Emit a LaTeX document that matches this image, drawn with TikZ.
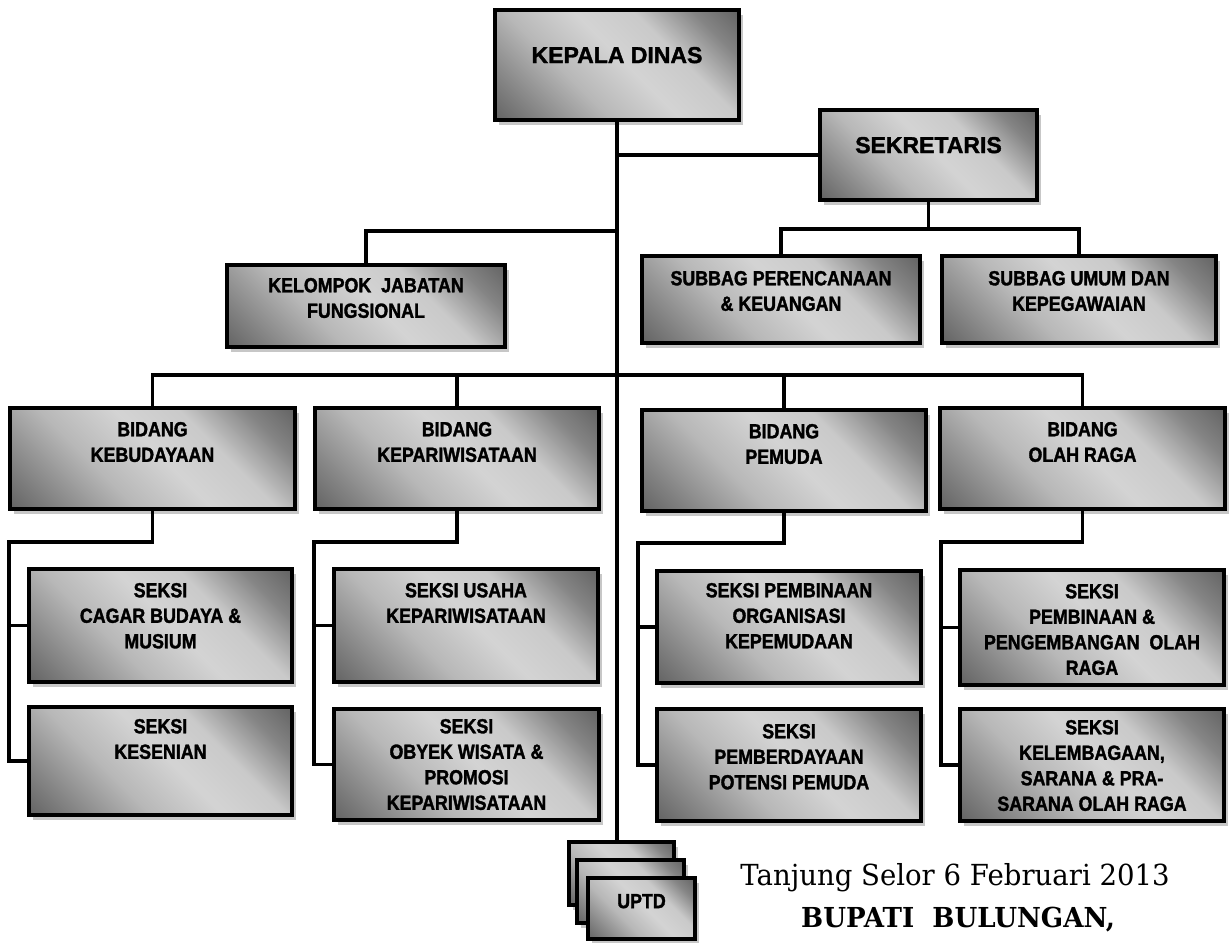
\documentclass[tikz,border=0pt]{standalone}
\usepackage{fontspec}
\newfontfamily\boxfont{Liberation Sans Bold}[FakeStretch=0.87, FakeBold=1.6]
\newfontfamily\headfont{Liberation Sans Bold}[FakeBold=1.6]
\newfontfamily\signfont{DejaVu Serif}[FakeStretch=0.95]

\definecolor{shA}{gray}{0.38}
\definecolor{shB}{gray}{0.52}
\definecolor{shC}{gray}{0.72}
\definecolor{shD}{gray}{0.83}
\definecolor{shE}{gray}{0.79}
\definecolor{shadowgray}{gray}{0.78}

% metallic diagonal fill of the boxes: dark corners, light band across
\pgfdeclarehorizontalshading{boxshade}{100bp}{%
  color(0bp)=(shA); color(14bp)=(shA); color(24bp)=(shB); color(38bp)=(shC);
  color(52bp)=(shD); color(64bp)=(shE); color(76bp)=(shB); color(86bp)=(shA);
  color(100bp)=(shA)}

\tikzset{
  orgrect/.style={rectangle, draw=black, line width=4.5pt, shading=boxshade,
    shading angle=45, inner sep=0pt, outer sep=0pt},
  orgtext/.style={align=center, inner sep=0pt, outer sep=0pt,
    font=\boxfont\fontsize{20.5}{25.5}\selectfont},
  bigtext/.style={font=\headfont\fontsize{23}{28}\selectfont},
  link/.style={line width=3.4pt, line join=miter},
}

% #1 extra text style, #2 name, #3 left, #4 top, #5 right, #6 bottom,
% #7 gap above text, #8 text
\newcommand\orgbox[8][]{%
  \fill[shadowgray] ({#3+4},{#4+5}) rectangle ({#5+4},{#6+5});
  \node[orgrect, minimum width={#5-#3}, minimum height={#6-#4}]
    (#2) at ({(#3+#5)/2},{(#4+#6)/2}) {};
  \node[orgtext, anchor=north, #1] (#2-t) at ([yshift=-#7pt]#2.north) {#8};
}

\begin{document}
\begin{tikzpicture}[x=1pt, y=-1pt]
\useasboundingbox[fill=white] (0,0) rectangle (1230,942);

% top level
\orgbox[bigtext]{kepala}{495}{10}{739}{120}{37}{KEPALA DINAS}
\orgbox[bigtext]{sekr}{820}{110}{1037}{200}{27}{SEKRETARIS}
\orgbox{kelompok}{227}{265}{505}{347}{13}{KELOMPOK~~JABATAN\\FUNGSIONAL}
\orgbox{sb1}{642}{256}{920}{343}{15}{SUBBAG PERENCANAAN\\\& KEUANGAN}
\orgbox{sb2}{942}{256}{1216}{343}{15}{SUBBAG UMUM DAN\\KEPEGAWAIAN}

% fields
\orgbox{bk}{10}{408}{295}{509}{14}{BIDANG\\KEBUDAYAAN}
\orgbox{bp}{315}{408}{599}{509}{14}{BIDANG\\KEPARIWISATAAN}
\orgbox{bm}{642}{410}{926}{511}{14}{BIDANG\\PEMUDA}
\orgbox{bo}{940}{408}{1225}{509}{14}{BIDANG\\OLAH RAGA}

% sections
\orgbox{k1}{29}{569}{292}{682}{14}{SEKSI\\CAGAR BUDAYA \&\\MUSIUM}
\orgbox{k2}{29}{707}{292}{815}{12}{SEKSI\\KESENIAN}
\orgbox{p1}{334}{569}{598}{682}{14}{SEKSI USAHA\\KEPARIWISATAAN}
\orgbox{p2}{334}{709}{599}{820}{10}{SEKSI\\OBYEK WISATA \&\\PROMOSI\\KEPARIWISATAAN}
\orgbox{m1}{657}{571}{921}{683}{12}{SEKSI PEMBINAAN\\ORGANISASI\\KEPEMUDAAN}
\orgbox{m2}{657}{709}{921}{821}{15}{SEKSI\\PEMBERDAYAAN\\POTENSI PEMUDA}
\orgbox{o1}{960}{570}{1224}{685}{14}{SEKSI\\PEMBINAAN \&\\PENGEMBANGAN~~OLAH\\RAGA}
\orgbox{o2}{960}{709}{1224}{821}{11}{SEKSI\\KELEMBAGAAN,\\SARANA \& PRA-\\SARANA OLAH RAGA}

% technical units, stacked
\orgbox{uA}{569}{842}{674}{905}{0}{}
\orgbox{uB}{577}{860}{684}{923}{0}{}
\orgbox{uC}{588}{878}{695}{939}{16}{UPTD}

% connectors
\coordinate (kbus) at (0,231);
\coordinate (sbus) at (0,229);
\coordinate (bbus) at (0,375);
\coordinate (kx) at (9,542);
\coordinate (px) at (314,542);
\coordinate (mx) at (638,543);
\coordinate (ox) at (941,542);

\draw[link] (kepala.south) -- (kepala.south |- uA.north);
\draw[link] (kepala.south |- sekr.west) -- (sekr.west);
\draw[link] (kelompok.north) |- (kepala.south |- kbus);
\draw[link] (sekr.south) -- (sekr.south |- sbus);
\draw[link] (sb1.north) -- (sb1.north |- sbus) -- (sb2.north |- sbus) -- (sb2.north);

\draw[link] (bk.north) -- (bk.north |- bbus) -- (bo.north |- bbus) -- (bo.north);
\draw[link] (bp.north) -- (bp.north |- bbus);
\draw[link] (bm.north) -- (bm.north |- bbus);

\draw[link] (bk.south) |- (kx) |- (k2.west);
\draw[link] (kx |- k1.west) -- (k1.west);
\draw[link] (bp.south) |- (px) |- (p2.west);
\draw[link] (px |- p1.west) -- (p1.west);
\draw[link] (bm.south) |- (mx) |- (m2.west);
\draw[link] (mx |- m1.west) -- (m1.west);
\draw[link] (bo.south) |- (ox) |- (o2.west);
\draw[link] (ox |- o1.west) -- (o1.west);

% signature block
\node[anchor=base, inner sep=0pt, font=\signfont\fontsize{29}{34}\selectfont]
  (place) at (955,885) {Tanjung Selor 6 Februari 2013};
\node[anchor=base, inner sep=0pt, font=\signfont\bfseries\fontsize{27.5}{34}\selectfont]
  (sign) at (958,927) {BUPATI~~BULUNGAN,};
\end{tikzpicture}
\end{document}
